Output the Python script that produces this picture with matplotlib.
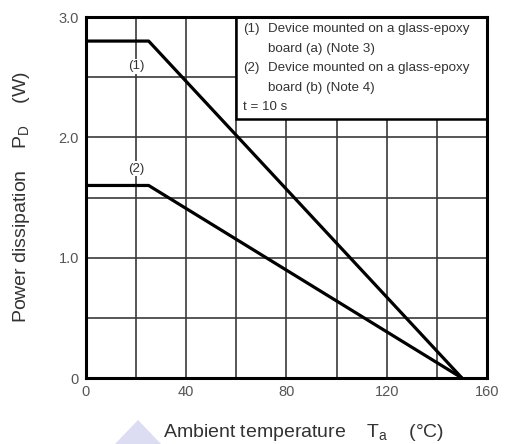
import matplotlib
matplotlib.use("Agg")
import matplotlib.pyplot as plt
from matplotlib.patches import Polygon, Rectangle

plt.rcParams['font.family'] = ['Liberation Sans', 'DejaVu Sans']

# Derating curves: ambient temperature (°C) vs power dissipation (W)
temp_1 = [0, 25, 150]
power_1 = [2.8, 2.8, 0.0]
temp_2 = [0, 25, 150]
power_2 = [1.6, 1.6, 0.0]

x_ticks = [0, 40, 80, 120, 160]
x_tick_labels = ["0", "40", "80", "120", "160"]
y_ticks = [0, 1.0, 2.0, 3.0]
y_tick_labels = ["0", "1.0", "2.0", "3.0"]

legend_labels = ["(1)", "", "(2)", "", "t = 10 s"]
legend_texts = [
    "Device mounted on a glass-epoxy",
    "board (a) (Note 3)",
    "Device mounted on a glass-epoxy",
    "board (b) (Note 4)",
    "",
]

fig = plt.figure(figsize=(5.06, 4.44), dpi=100)
ax = fig.add_axes([86 / 506, 1 - 378 / 444, (487 - 86) / 506, (378 - 17) / 444])

ax.set_xlim(0, 160)
ax.set_ylim(0, 3.0)

# grid every 20 °C and 0.5 W
for gx in range(20, 160, 20):
    ax.axvline(gx, color="#3a3a3a", lw=1.2, zorder=1)
for gy in [0.5, 1.0, 1.5, 2.0, 2.5]:
    ax.axhline(gy, color="#3a3a3a", lw=1.2, zorder=1)

ax.plot(temp_1, power_1, color="black", lw=2.3, zorder=3, solid_capstyle="butt")
ax.plot(temp_2, power_2, color="black", lw=2.3, zorder=3, solid_capstyle="butt")

# curve labels with a white knock-out over the grid
ax.text(20, 2.59, "(1)", ha="center", va="center", fontsize=9.5, color="#333333",
        zorder=4, bbox=dict(boxstyle="square,pad=0.12", fc="white", ec="none"))
ax.text(20, 1.74, "(2)", ha="center", va="center", fontsize=9.5, color="#333333",
        zorder=4, bbox=dict(boxstyle="square,pad=0.12", fc="white", ec="none"))

# legend box in upper right
ax.add_patch(Rectangle((60, 2.15), 100, 0.85, facecolor="white", edgecolor="black",
                       lw=1.8, zorder=5))
for i, (lab, txt) in enumerate(zip(legend_labels, legend_texts)):
    y = 2.90 - i * 0.163
    if lab:
        ax.text(62.7, y, lab, ha="left", va="center", fontsize=9.6,
                color="#333333", zorder=6)
    if txt:
        ax.text(72.8, y, txt, ha="left", va="center", fontsize=9.6,
                color="#333333", zorder=6)

ax.set_xticks(x_ticks)
ax.set_xticklabels(x_tick_labels)
ax.set_yticks(y_ticks)
ax.set_yticklabels(y_tick_labels)
ax.tick_params(axis="both", length=0, labelsize=10.5, labelcolor="#555555")
ax.tick_params(axis="x", pad=5)
ax.tick_params(axis="y", pad=5)

for sp in ax.spines.values():
    sp.set_linewidth(2.2)
    sp.set_color("black")
    sp.set_zorder(7)

fig.text(22 / 506, 1 - 197 / 444, "Power dissipation    $\\mathregular{P_D}$    (W)",
         rotation=90, ha="center", va="center", fontsize=14, color="#333333")
fig.text(304 / 506, 1 - 432 / 444, "Ambient temperature    $\\mathregular{T_a}$    (°C)",
         ha="center", va="center", fontsize=14, color="#333333")

# faint watermark triangle near the bottom (pixel coords, origin bottom-left)
fig.patches.append(Polygon([[115, 0], [138, 24], [161, 0]], closed=True,
                           transform=None, facecolor="#dcdcf2", edgecolor="none",
                           zorder=0))

fig.savefig("out.png", dpi=100)
